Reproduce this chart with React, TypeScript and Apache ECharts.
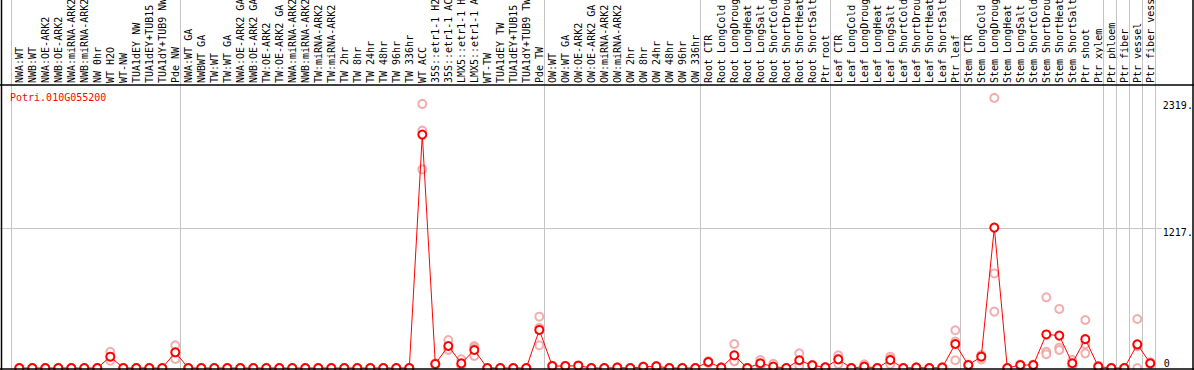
import React, { useEffect, useRef } from "react";
import * as echarts from "echarts";

const geneId = "Potri.010G055200";

const categories = [
  "NWA:WT", "NWB:WT", "NWA:OE-ARK2", "NWB:OE-ARK2", "NWA:miRNA-ARK2", "NWB:miRNA-ARK2",
  "NW 0hr", "WT H2O", "WT-NW", "TUA1dEY NW", "TUA1dEY+TUB15 NW", "TUA1dY+TUB9 NW", "Pde NW",
  "NWA:WT GA", "NWBWT GA", "TW:WT", "TW:WT GA", "NWA:OE-ARK2 GA", "NWB:OE-ARK2 GA",
  "TW:OE-ARK2", "TW:OE-ARK2 GA", "NWA:miRNA-ARK2 GA", "NWB:miRNA-ARK2 GA", "TW:miRNA-ARK2",
  "TW:miRNA-ARK2 GA", "TW 2hr", "TW 8hr", "TW 24hr", "TW 48hr", "TW 96hr", "TW 336hr",
  "WT ACC", "35S::etr1-1 H2O", "35S::etr1-1 ACC", "LMX5::etr1-1 H2O", "LMX5::etr1-1 ACC",
  "WT-TW", "TUA1dEY TW", "TUA1dEY+TUB15 TW", "TUA1dY+TUB9 TW", "Pde TW",
  "OW:WT", "OW:WT GA", "OW:OE-ARK2", "OW:OE-ARK2 GA", "OW:miRNA-ARK2", "OW:miRNA-ARK2 GA",
  "OW 2hr", "OW 8hr", "OW 24hr", "OW 48hr", "OW 96hr", "OW 336hr",
  "Root CTR", "Root LongCold", "Root LongDrought", "Root LongHeat", "Root LongSalt",
  "Root ShortCold", "Root ShortDrought", "Root ShortHeat", "Root ShortSalt", "Ptr root",
  "Leaf CTR", "Leaf LongCold", "Leaf LongDrought", "Leaf LongHeat", "Leaf LongSalt",
  "Leaf ShortCold", "Leaf ShortDrought", "Leaf ShortHeat", "Leaf ShortSalt", "Ptr leaf",
  "Stem CTR", "Stem LongCold", "Stem LongDrought", "Stem LongHeat", "Stem LongSalt",
  "Stem ShortCold", "Stem ShortDrought", "Stem ShortHeat", "Stem ShortSalt", "Ptr shoot",
  "Ptr xylem", "Ptr phloem", "Ptr fiber", "Ptr vessel", "Ptr fiber vessel",
];

// mean expression per sample
const means = [
  0, 0, 0, 0, 0, 0, 0, 98, 0, 0, 0, 0, 136,
  0, 0, 0, 0, 0, 0, 0, 0, 0, 0, 0, 0, 0, 0, 0, 0, 0, 0,
  2024, 35, 191, 40, 156, 0, 0, 0, 0, 330,
  17, 17, 20, 0, 0, 3, 0, 10, 14, 0, 0, 0,
  52, 3, 110, 0, 41, 12, 0, 67, 23, 6,
  75, 0, 12, 0, 69, 0, 3, 0, 4, 208,
  26, 98, 1217, 0, 26, 26, 291, 281, 41, 250, 12,
  0, 0, 205, 41,
];

// replicate values per sample
const rep1 = [
  0, 0, 0, 0, 0, 0, 0, 141, 0, 0, 0, 0, 197,
  0, 0, 0, 0, 0, 0, 0, 0, 0, 0, 0, 0, 0, 0, 0, 0, 0, 0,
  2290, 40, 243, 75, 191, 0, 0, 0, 0, 445,
  20, 20, 24, 0, 0, 5, 0, 13, 18, 0, 0, 0,
  60, 5, 208, 0, 69, 36, 0, 127, 28, 8,
  110, 0, 32, 0, 98, 0, 5, 0, 9, 327,
  30, 113, 2342, 0, 30, 30, 613, 512, 69, 416, 20,
  0, 0, 425, 50,
];
const rep2 = [
  0, 0, 0, 0, 0, 0, 0, 90, 0, 0, 0, 0, 133,
  0, 0, 0, 0, 0, 0, 0, 0, 0, 0, 0, 0, 0, 0, 0, 0, 0, 0,
  2058, 35, 174, 26, 173, 0, 0, 0, 0, 348,
  17, 17, 20, 0, 0, 3, 0, 10, 14, 0, 0, 0,
  52, 3, 62, 0, 31, 0, 0, 54, 23, 6,
  80, 0, 4, 0, 77, 0, 3, 0, 3, 230,
  26, 106, 820, 0, 26, 26, 141, 176, 37, 206, 12,
  0, 0, 190, 41,
];
const rep3 = [
  0, 0, 0, 0, 0, 0, 0, 63, 0, 0, 0, 0, 78,
  0, 0, 0, 0, 0, 0, 0, 0, 0, 0, 0, 0, 0, 0, 0, 0, 0, 0,
  1723, 30, 156, 20, 104, 0, 0, 0, 0, 197,
  14, 14, 16, 0, 0, 1, 0, 7, 10, 0, 0, 0,
  44, 1, 60, 0, 23, 0, 0, 20, 18, 4,
  35, 0, 0, 0, 32, 0, 1, 0, 0, 67,
  22, 75, 489, 0, 22, 22, 119, 156, 17, 127, 4,
  0, 0, 0, 32,
];

// last sample index of each block (-1 = left edge)
const groupEnds = [-1, 12, 40, 52, 62, 72, 83, 84, 85, 86, 87];
const yMax = 2454;
const midLine = 1217;
const upperLabels = [1217, 2319];
const lowerLabels = [0];

export default function App() {
  const ref = useRef<HTMLDivElement>(null);

  useEffect(() => {
    if (!ref.current) return;
    const chart = echarts.init(ref.current, null, { renderer: "svg" });
    const font = "DejaVu Sans Mono";
    const repData: number[][] = [];
    categories.forEach((_, i) => {
      [rep1[i], rep2[i], rep3[i]].forEach((v) => repData.push([i, v]));
    });

    const labelStyle = { color: "#000", fontSize: 10, fontFamily: font };

    chart.setOption({
      animation: false,
      backgroundColor: "#fff",
      title: {
        text: geneId,
        left: 10,
        top: 92,
        padding: 0,
        textStyle: { color: "#ff0000", fontSize: 10, fontFamily: font, fontWeight: "normal" },
      },
      grid: {
        left: 12.8,
        top: 85,
        width: 1144,
        height: 283,
        containLabel: false,
        outerBoundsMode: "none",
      },
      xAxis: {
        type: "category",
        position: "top",
        data: categories,
        boundaryGap: true,
        axisLine: { show: false },
        axisTick: { show: false },
        splitLine: { show: false },
        axisLabel: { ...labelStyle, interval: 0, rotate: 90, margin: 2 },
      },
      yAxis: [
        {
          type: "value",
          position: "right",
          min: 0,
          max: yMax,
          axisLine: { show: false },
          axisTick: { show: false },
          splitLine: { show: false },
          axisLabel: {
            ...labelStyle,
            customValues: upperLabels,
            formatter: (v: number) => `${v}.`,
            verticalAlign: "top",
            align: "left",
            margin: 6,
          },
        },
        {
          type: "value",
          position: "right",
          min: 0,
          max: yMax,
          axisLine: { show: false },
          axisTick: { show: false },
          splitLine: { show: false },
          axisLabel: {
            ...labelStyle,
            customValues: lowerLabels,
            formatter: (v: number) => `${v}`,
            verticalAlign: "bottom",
            align: "left",
            margin: 7,
          },
        },
      ],
      graphic: [
        { type: "line", shape: { x1: 0, y1: 85, x2: 1194, y2: 85 }, style: { stroke: "#000", lineWidth: 1.5 }, z: 100 },
        { type: "line", shape: { x1: 0, y1: 369, x2: 1194, y2: 369 }, style: { stroke: "#000", lineWidth: 1.5 }, z: 100 },
        { type: "line", shape: { x1: 1.5, y1: 0, x2: 1.5, y2: 370 }, style: { stroke: "#000", lineWidth: 1.5 }, z: 100 },
        { type: "line", shape: { x1: 1193, y1: 0, x2: 1193, y2: 370 }, style: { stroke: "#000", lineWidth: 1.5 }, z: 100 },
      ],
      series: [
        {
          type: "custom",
          silent: true,
          clip: false,
          z: 1,
          data: groupEnds.map((g) => [Math.max(g, 0), 0, g]),
          encode: { x: 0, y: 1 },
          renderItem: (params: any, api: any) => {
            const g = api.value(2);
            const bw = api.size([1, 0])[0];
            const p = api.coord([api.value(0), 0]);
            const x = Math.round(p[0] + (g < 0 ? -bw : 0) + 5) + 0.5;
            return {
              type: "line",
              shape: { x1: x, y1: 0, x2: x, y2: p[1] + 2 },
              style: { stroke: "#c4c4c4", lineWidth: 1 },
            };
          },
        },
        {
          type: "custom",
          silent: true,
          clip: false,
          z: 1,
          data: [[0, midLine]],
          encode: { x: 0, y: 1 },
          renderItem: (params: any, api: any) => {
            const p = api.coord([0, api.value(1)]);
            const cs = params.coordSys;
            const y = Math.round(p[1]) + 0.5;
            return {
              type: "line",
              shape: { x1: 0, y1: y, x2: cs.x + cs.width + 5, y2: y },
              style: { stroke: "#c4c4c4", lineWidth: 1 },
            };
          },
        },
        {
          type: "scatter",
          data: repData,
          symbol: "emptyCircle",
          symbolSize: 8,
          clip: false,
          z: 3,
          itemStyle: { color: "#ef9a9a", borderColor: "#ef9a9a", borderWidth: 1.2 },
        },
        {
          type: "line",
          data: means,
          symbol: "emptyCircle",
          symbolSize: 8,
          clip: false,
          z: 4,
          lineStyle: { color: "#ff0000", width: 1 },
          itemStyle: { color: "#ff0000", borderColor: "#ff0000", borderWidth: 1.6 },
        },
      ],
    });

    return () => chart.dispose();
  }, []);

  return (
    <div
      ref={ref}
      style={{
        position: "fixed",
        left: 0,
        top: 0,
        width: 1194,
        height: 370,
        overflow: "hidden",
        background: "#fff",
      }}
    />
  );
}
